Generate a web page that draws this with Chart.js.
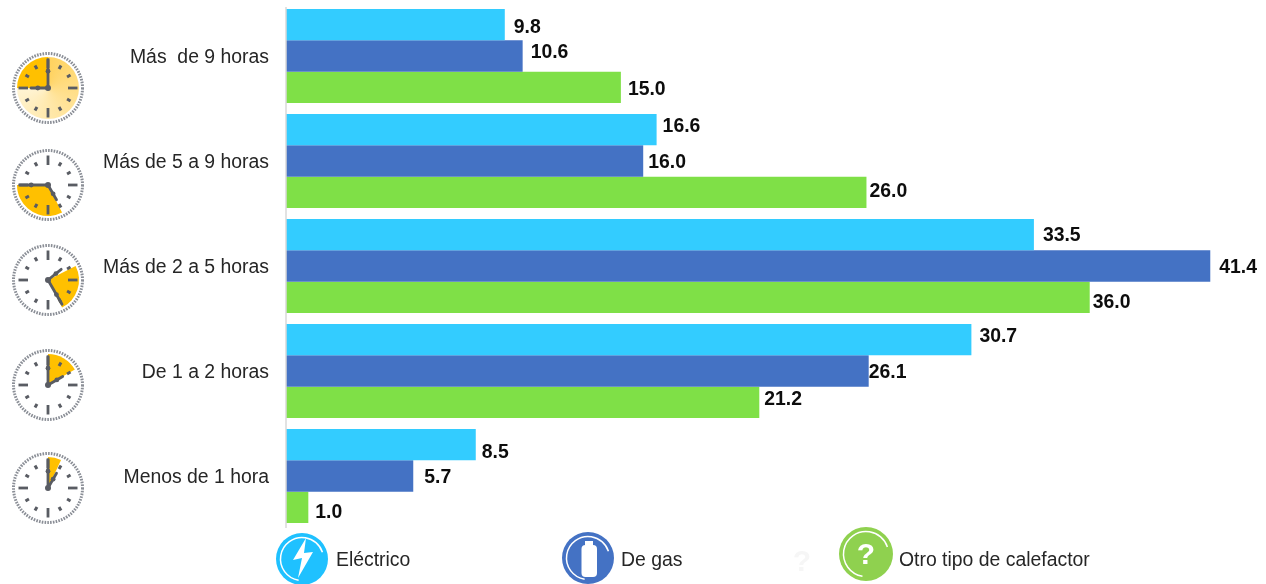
<!DOCTYPE html>
<html>
<head>
<meta charset="utf-8">
<title>Horas de uso del calefactor</title>
<script src="https://cdn.jsdelivr.net/npm/chart.js@4"></script>
<style>
    html, body { margin: 0; padding: 0; background: #fff; overflow: hidden; }
    canvas { display: block; }
</style>
</head>
<body>
<canvas id="canvas1" width="1266" height="584"></canvas>
<script>
let categories = ['Más  de 9 horas', 'Más de 5 a 9 horas', 'Más de 2 a 5 horas', 'De 1 a 2 horas', 'Menos de 1 hora'];
let electrico = [9.8, 16.6, 33.5, 30.7, 8.5];
let gas = [10.6, 16.0, 41.4, 26.1, 5.7];
let otro = [15.0, 26.0, 36.0, 21.2, 1.0];
let seriesNames = ['Eléctrico', 'De gas', 'Otro tipo de calefactor'];

// hand-placed offsets of the value labels, the original ones are not aligned to the bars
let labelNudge = [
    [[9, 3], [8, -3], [7, 2]],
    [[6, -3], [5, 2], [3, -1]],
    [[9, 1], [9, 2], [3, 5]],
    [[8, -3], [0, 2], [5, -3]],
    [[6, 8], [11, 2], [7, 5]]
];

// shaded part of each clock, in hours
let clockFrom = [9, 5.1, 2.1, 0, 0];
let clockTo = [12, 9, 5.1, 2, 0.83];
let clockLong = [0, 9, 5, 0, 0];
let clockShort = [9, 5, 1.7, 2, 1];
let clockY = [88, 185, 280, 385, 488];
let clockX = 48;

function hourAngle(h) {
    return h / 12 * Math.PI * 2 - Math.PI / 2;
}

function drawHand(ctx, h, len) {
    let a = hourAngle(h);
    ctx.strokeStyle = '#595c63';
    ctx.lineWidth = 2.8;
    ctx.lineCap = 'round';
    ctx.beginPath();
    ctx.moveTo(0, 0);
    ctx.lineTo(Math.cos(a) * len, Math.sin(a) * len);
    ctx.stroke();
    // little arrow bump half way up the hand
    ctx.fillStyle = '#595c63';
    ctx.beginPath();
    ctx.arc(Math.cos(a) * len * 0.6, Math.sin(a) * len * 0.6, 2.4, 0, Math.PI * 2);
    ctx.fill();
}

function drawClock(ctx, i) {
    ctx.save();
    ctx.translate(clockX, clockY[i]);

    ctx.fillStyle = '#fff';
    ctx.beginPath();
    ctx.arc(0, 0, 36, 0, Math.PI * 2);
    ctx.fill();

    // first clock has a pale sunburst behind the wedge
    if (i === 0) {
        let burst = ctx.createConicGradient(-Math.PI / 2, 0, 0);
        burst.addColorStop(0, '#ffd25e');
        burst.addColorStop(0.75, '#fff4d4');
        burst.addColorStop(1, '#fff4d4');
        ctx.fillStyle = burst;
        ctx.beginPath();
        ctx.arc(0, 0, 31, 0, Math.PI * 2);
        ctx.fill();
    }

    ctx.fillStyle = '#ffc000';
    ctx.beginPath();
    ctx.moveTo(0, 0);
    ctx.arc(0, 0, 31, hourAngle(clockFrom[i]), hourAngle(clockTo[i]));
    ctx.closePath();
    ctx.fill();

    // dotted rim
    ctx.strokeStyle = '#8a8e96';
    ctx.lineWidth = 3;
    ctx.setLineDash([1.6, 1.2]);
    ctx.beginPath();
    ctx.arc(0, 0, 34.5, 0, Math.PI * 2);
    ctx.stroke();
    ctx.setLineDash([]);

    // hour marks
    ctx.strokeStyle = '#595c63';
    ctx.lineCap = 'butt';
    for (let h = 0; h < 12; h++) {
        let a = hourAngle(h);
        let major = h % 3 === 0;
        let r1 = major ? 20 : 22;
        let r2 = major ? 29.5 : 26;
        ctx.lineWidth = major ? 2.8 : 3;
        ctx.beginPath();
        ctx.moveTo(Math.cos(a) * r1, Math.sin(a) * r1);
        ctx.lineTo(Math.cos(a) * r2, Math.sin(a) * r2);
        ctx.stroke();
    }

    drawHand(ctx, clockLong[i], 28);
    drawHand(ctx, clockShort[i], 17);
    ctx.fillStyle = '#595c63';
    ctx.beginPath();
    ctx.arc(0, 0, 3, 0, Math.PI * 2);
    ctx.fill();
    ctx.restore();
}

function drawBadge(ctx, x, y, r, color) {
    ctx.fillStyle = color;
    ctx.beginPath();
    ctx.arc(x, y, r, 0, Math.PI * 2);
    ctx.fill();
    ctx.strokeStyle = '#fff';
    ctx.lineWidth = 1.5;
    ctx.beginPath();
    ctx.arc(x, y, r - 4.5, Math.PI * 0.55, Math.PI * 1.9);
    ctx.stroke();
}

function drawLegend(ctx) {
    drawBadge(ctx, 302, 559, 26, '#1fc1ff');
    ctx.fillStyle = '#fff';
    ctx.beginPath();
    ctx.moveTo(306, 538);
    ctx.lineTo(293, 560);
    ctx.lineTo(302, 558);
    ctx.lineTo(298, 578);
    ctx.lineTo(313, 552);
    ctx.lineTo(304, 553);
    ctx.closePath();
    ctx.fill();

    drawBadge(ctx, 588, 558, 26, '#4472c4');
    ctx.fillStyle = '#fff';
    ctx.beginPath();
    ctx.roundRect(581.5, 545, 15.5, 32, 4);
    ctx.fill();
    ctx.fillRect(585, 541, 8, 4);

    drawBadge(ctx, 866, 554, 27, '#8fd14f');
    ctx.fillStyle = '#fff';
    ctx.textAlign = 'center';
    ctx.textBaseline = 'middle';
    ctx.font = 'bold 30px "Liberation Sans"';
    ctx.fillText('?', 866, 556);

    ctx.fillStyle = '#f6f6f6';
    ctx.font = 'bold 30px "Liberation Sans"';
    ctx.fillText('?', 802, 563);

    ctx.fillStyle = '#262626';
    ctx.textAlign = 'left';
    ctx.font = '19.4px "Liberation Sans"';
    ctx.fillText(seriesNames[0], 336, 561);
    ctx.fillText(seriesNames[1], 621, 561);
    ctx.fillText(seriesNames[2], 899, 561);
}

let extras = {
    id: 'extras',
    afterDatasetsDraw(chart) {
        let ctx = chart.ctx;
        ctx.save();

        // vertical axis line
        ctx.strokeStyle = '#d9d9d9';
        ctx.lineWidth = 1.5;
        ctx.beginPath();
        ctx.moveTo(chart.chartArea.left, 7);
        ctx.lineTo(chart.chartArea.left, 528);
        ctx.stroke();

        // value labels
        ctx.fillStyle = '#0d0d0d';
        ctx.font = 'bold 19.4px "Liberation Sans"';
        ctx.textAlign = 'left';
        ctx.textBaseline = 'middle';
        chart.data.datasets.forEach((ds, d) => {
            chart.getDatasetMeta(d).data.forEach((bar, c) => {
                let n = labelNudge[c][d];
                ctx.fillText(ds.data[c].toFixed(1), bar.x + n[0], bar.y + n[1]);
            });
        });

        categories.forEach((cat, i) => drawClock(ctx, i));
        drawLegend(ctx);
        ctx.restore();
    }
};

let datasets = [
    { label: seriesNames[0], data: electrico, backgroundColor: '#33ccff' },
    { label: seriesNames[1], data: gas, backgroundColor: '#4472c4' },
    { label: seriesNames[2], data: otro, backgroundColor: '#7fe047' }
];

let config = {
    type: 'bar',
    data: { labels: categories, datasets: datasets },
    options: {
        indexAxis: 'y',
        responsive: false,
        animation: false,
        layout: { padding: { top: 3.5, bottom: 55.5, right: 20, left: 0 } },
        categoryPercentage: 0.895,
        barPercentage: 1,
        plugins: {
            legend: { display: false },
            tooltip: { enabled: false }
        },
        scales: {
            x: { display: false, min: 0, max: 43 },
            y: {
                afterFit(scale) {
                    scale.width = 286;
                    // tick label padding would otherwise push the plot down
                    scale.paddingTop = 0;
                    scale.paddingBottom = 0;
                },
                border: { display: false },
                grid: { display: false, drawTicks: false },
                ticks: {
                    color: '#262626',
                    padding: 17,
                    labelOffset: 2,
                    autoSkip: false,
                    font: { family: '"Liberation Sans"', size: 19.4 }
                }
            }
        }
    },
    plugins: [extras]
};

let myChart = new Chart(document.getElementById('canvas1'), config);
</script>
</body>
</html>
